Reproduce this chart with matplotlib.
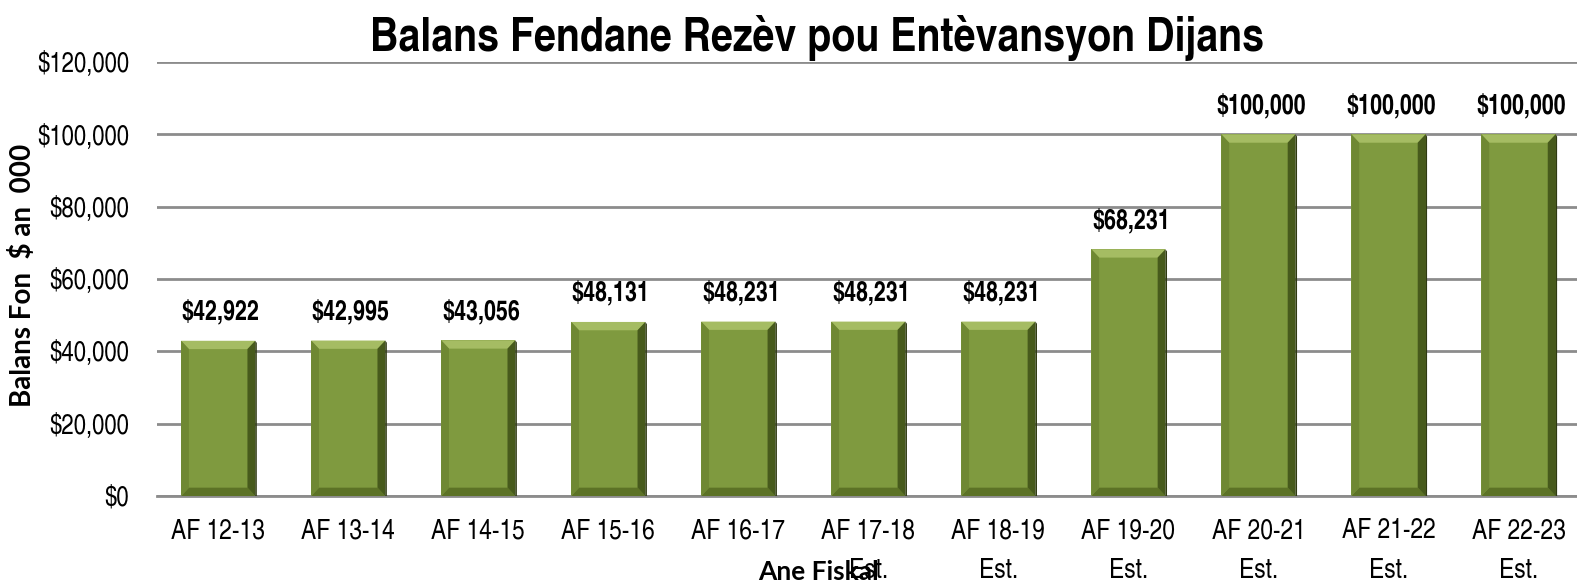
import matplotlib.pyplot as plt
from matplotlib.patches import Polygon
from matplotlib.ticker import FuncFormatter

years = ["AF 12-13", "AF 13-14", "AF 14-15", "AF 15-16", "AF 16-17",
         "AF 17-18\nEst.", "AF 18-19\nEst.", "AF 19-20\nEst.", "AF 20-21\nEst.",
         "AF 21-22\nEst.", "AF 22-23\nEst."]
balance = [42922, 42995, 43056, 48131, 48231, 48231, 48231, 68231, 100000, 100000, 100000]

plt.rcParams['font.family'] = ["TeX Gyre Heros Cn", "DejaVu Sans"]
plt.rcParams['font.stretch'] = "condensed"
bold_sans = ["Lato", "DejaVu Sans"]

fig = plt.figure(figsize=(15.77, 5.84), dpi=100)
ax = fig.add_axes([0.0996, 0.1507, 0.9004, 0.743])

x = list(range(len(years)))
bars = ax.bar(x, balance, width=0.57, color="#7f9a3f", zorder=2)

# bevelled edges on every bar
dx, dy = 0.06, 2300
for b in bars:
    x0, w, h = b.get_x(), b.get_width(), b.get_height()
    x1 = x0 + w
    sides = [
        ([(x0, h), (x1, h), (x1 - dx, h - dy), (x0 + dx, h - dy)], "#a5bc63"),
        ([(x0, 0), (x1, 0), (x1 - dx, dy), (x0 + dx, dy)], "#5c7226"),
        ([(x0, 0), (x0, h), (x0 + dx, h - dy), (x0 + dx, dy)], "#6f8833"),
        ([(x1, 0), (x1, h), (x1 - dx, h - dy), (x1 - dx, dy)], "#475a1c"),
    ]
    for pts, c in sides:
        ax.add_patch(Polygon(pts, closed=True, color=c, zorder=3, lw=0))
    ax.add_patch(Polygon([(x1, 0), (x1, h), (x1 + 0.012, h - 600), (x1 + 0.012, 0)],
                         closed=True, color="#2f3a12", zorder=3, lw=0))

for xi, v in zip(x, balance):
    ax.text(xi + 0.02, v + 4200, f"${v:,.0f}", ha="center", va="bottom",
            fontsize=19, fontweight="bold")

ax.set_xlim(-0.47, 10.45)
ax.set_ylim(0, 120000)
ax.set_yticks(range(0, 120001, 20000))
ax.yaxis.set_major_formatter(FuncFormatter(lambda v, p: f"${v:,.0f}"))
ax.set_xticks(x)
ax.set_xticklabels(years, linespacing=1.7)
ax.tick_params(axis="x", length=0, labelsize=20, pad=16)
ax.tick_params(axis="y", length=0, labelsize=19.5, pad=20)

ax.grid(axis="y", color="#8c8c8c", linewidth=2, zorder=0)
for s in ["top", "right", "left"]:
    ax.spines[s].set_visible(False)
ax.spines["bottom"].set_color("#8c8c8c")
ax.spines["bottom"].set_linewidth(2)

fig.text(0.518, 0.935, "Balans Fendane Rezèv pou Entèvansyon Dijans",
         ha="center", va="center", fontsize=34.5, fontweight="bold")
fig.text(0.519, 0.02, "Ane Fiskal", ha="center", va="center",
         fontsize=19, fontweight="bold", family=bold_sans, stretch="normal")
fig.text(0.014, 0.529, "Balans Fon  $ an  000", ha="center", va="center",
         rotation=90, fontsize=20, fontweight="bold", family=bold_sans, stretch="normal")

fig.savefig("out.png", dpi=100)
